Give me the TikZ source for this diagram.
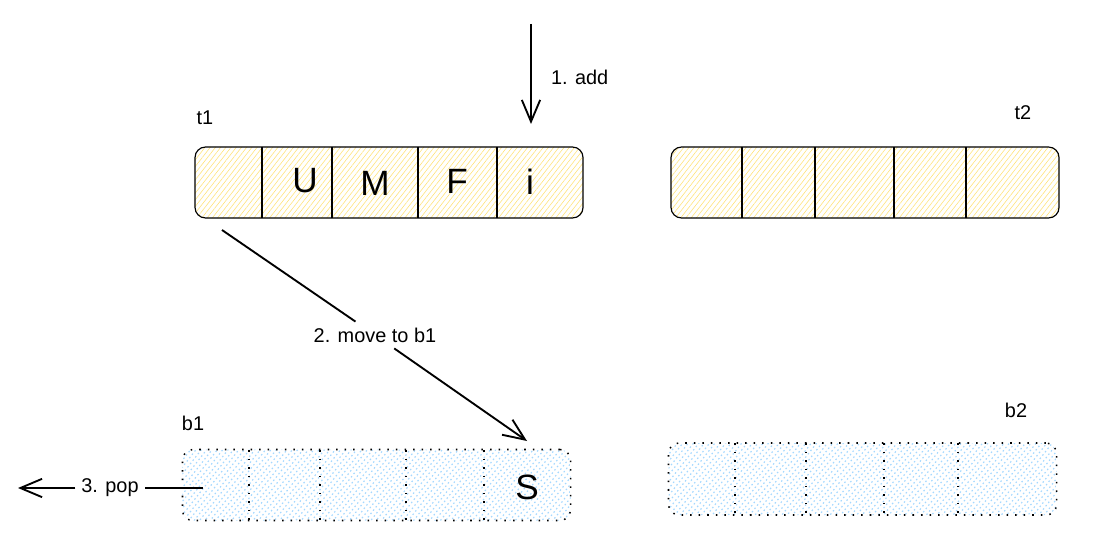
\documentclass[tikz,border=0pt]{standalone}
\usepackage{fontspec}
\setmainfont{Liberation Sans}
\usetikzlibrary{arrows.meta,patterns.meta}

\definecolor{hatchyellow}{HTML}{FFE27A}
\definecolor{hatchblue}{HTML}{A5D8FF}

\tikzset{
  tbox/.style={draw, line width=1pt, rounded corners=9pt, minimum width=11.64cm,
    minimum height=2.13cm, inner sep=0pt,
    pattern={Lines[angle=52,distance=3.5pt,line width=0.5pt]}, pattern color=hatchyellow},
  bbox/.style={tbox, line width=1.3pt, dash pattern=on 1.3pt off 6pt,
    pattern={Lines[angle=52,distance=3.6pt,line width=1pt]}, pattern color=hatchblue},
  wall/.style={line width=1pt},
  bwall/.style={line width=1.3pt, dash pattern=on 1.3pt off 6pt},
  cell/.style={font=\fontsize{30}{36}\selectfont},
  lbl/.style={font=\fontsize{17}{20}\selectfont, inner sep=5pt},
  arr/.style={line width=1.6pt, -{Straight Barb[length=6.5mm,width=5.5mm]}},
}

\begin{document}
\begin{tikzpicture}[x=0.03cm, y=-0.03cm]
    \useasboundingbox (0,0) rectangle (1102,543);

    % Draw the four bins
    \node[tbox] (t1) at (389,182.5) {};
    \node[tbox] (t2) at (865,182.5) {};
    \node[bbox] (b1) at (376.5,485) {};
    \node[bbox, minimum height=2.16cm] (b2) at (862.5,479) {};

    % Draw the cell walls
    \foreach \x in {262,332,418,497} {
        \draw[wall] (\x,147) -- (\x,218);
    }
    \foreach \x in {742,815,894,966} {
        \draw[wall] (\x,147) -- (\x,218);
    }
    \foreach \x in {249,320,406,484} {
        \draw[bwall] (\x,450) -- (\x,520);
    }
    \foreach \x in {735,806,884,958} {
        \draw[bwall] (\x,443) -- (\x,515);
    }

    % Draw the names of the bins
    \node[lbl] (t1name) at (205,118) {t1};
    \node[lbl] (t2name) at (1023,113) {t2};
    \node[lbl] (b1name) at (193,423) {b1};
    \node[lbl] (b2name) at (1016,410) {b2};

    % Draw the letters in the cells
    \node[cell] (cu) at (305,181) {U};
    \node[cell] (cm) at (375,183) {M};
    \node[cell] (cf) at (457,181) {F};
    \node[cell] (ci) at (530,182) {i};
    \node[cell] (cs) at (527,487) {S};

    % Draw the three moves
    \coordinate (addtop) at (531,24);
    \coordinate (addend) at (531,124);
    \draw[arr] (addtop) -- (addend);
    \node[lbl, anchor=west] (addlbl) at (545,77) {1. add};

    \coordinate (mvstart) at (222,230);
    \coordinate (mvend) at (527,441);
    \node[lbl] (mvlbl) at (375,335) {2. move to b1};
    \draw[line width=1.6pt] (mvstart) -- (mvlbl);
    \draw[arr] (mvlbl) -- (mvend);

    \coordinate (popstart) at (203,488);
    \coordinate (popend) at (18,488);
    \node[lbl] (poplbl) at (110,488) {3. pop};
    \draw[line width=1.6pt] (popstart) -- (poplbl);
    \draw[arr] (poplbl) -- (popend);
\end{tikzpicture}
\end{document}
